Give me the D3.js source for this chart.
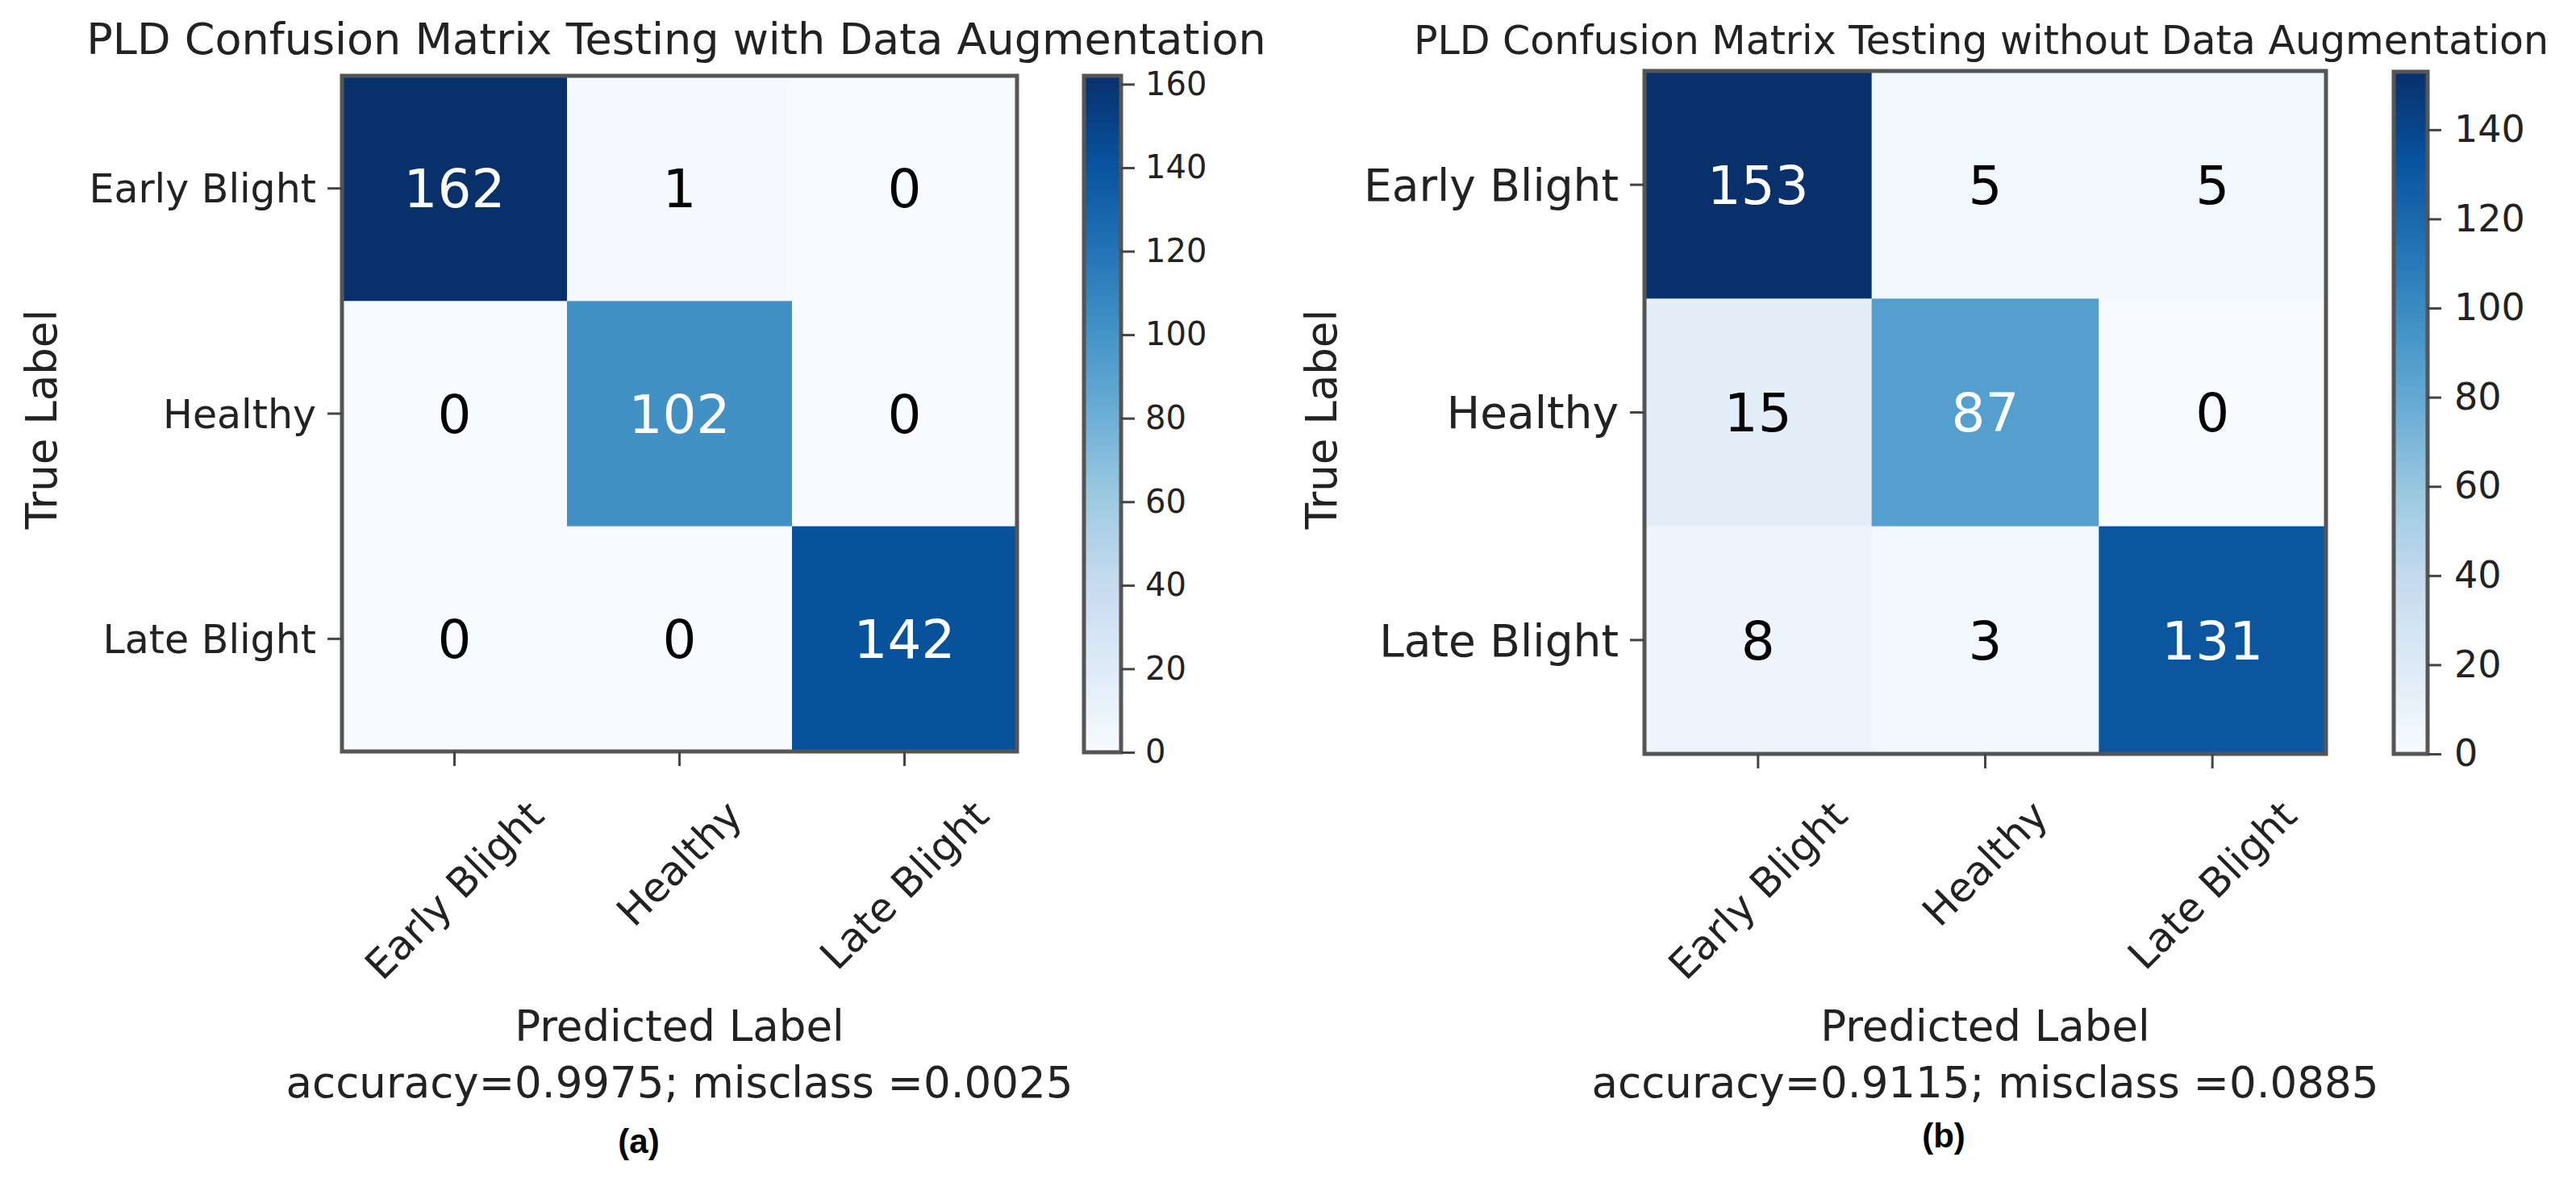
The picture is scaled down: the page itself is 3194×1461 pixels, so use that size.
<!DOCTYPE html>
<html>
<head>
<meta charset="utf-8">
<script src="https://cdn.jsdelivr.net/npm/d3@7"></script>
<style>
  body { margin: 0; background: #fff; }
  text { font-family: "DejaVu Sans", sans-serif; fill: #222; }
</style>
</head>
<body>
<div id="chart"></div>
<script>
// class names and confusion matrix counts (rows = true, cols = predicted)
var classes = ["Early Blight", "Healthy", "Late Blight"];
var matrixA = [[162, 1, 0], [0, 102, 0], [0, 0, 142]];
var matrixB = [[153, 5, 5], [15, 87, 0], [8, 3, 131]];
var cbTicksA = [0, 20, 40, 60, 80, 100, 120, 140, 160];
var cbTicksB = [0, 20, 40, 60, 80, 100, 120, 140];
var titleA = "PLD Confusion Matrix Testing with Data Augmentation";
var titleB = "PLD Confusion Matrix Testing without Data Augmentation";
var footA = "accuracy=0.9975; misclass =0.0025";
var footB = "accuracy=0.9115; misclass =0.0885";

var W = 3194, H = 1461;

var svg = d3.select("#chart")
  .append("svg")
    .attr("width", W)
    .attr("height", H);

svg.append("rect").attr("width", W).attr("height", H).attr("fill", "#fff");

// matplotlib "Blues" = linear ramp through the 9 colorbrewer stops
var blueStops = d3.schemeBlues[9];
var blues = d3.scaleLinear()
  .domain(d3.range(9).map(function(i) { return i / 8; }))
  .range(blueStops)
  .interpolate(d3.interpolateRgb);

function drawPanel(o) {
  var flat = d3.merge(o.matrix);
  var vmax = d3.max(flat), vmin = d3.min(flat);
  var g = svg.append("g");

  var x = d3.scaleBand().domain(d3.range(3)).range([o.x0, o.x1]);
  var y = d3.scaleBand().domain(d3.range(3)).range([o.y0, o.y1]);

  // title
  g.append("text")
    .attr("x", (o.x0 + o.x1) / 2 + o.titleDx)
    .attr("y", 67)
    .attr("text-anchor", "middle")
    .style("font-size", o.titleSize + "px")
    .text(o.title);

  // cells
  var cells = [];
  o.matrix.forEach(function(row, i) {
    row.forEach(function(v, j) { cells.push({i: i, j: j, v: v}); });
  });
  g.selectAll("rect.cell")
    .data(cells)
    .enter()
    .append("rect")
      .attr("class", "cell")
      .attr("x", function(d) { return x(d.j); })
      .attr("y", function(d) { return y(d.i); })
      .attr("width", x.bandwidth() + 0.5)
      .attr("height", y.bandwidth() + 0.5)
      .attr("fill", function(d) { return blues((d.v - vmin) / (vmax - vmin)); });

  g.selectAll("text.val")
    .data(cells)
    .enter()
    .append("text")
      .attr("class", "val")
      .attr("x", function(d) { return x(d.j) + x.bandwidth() / 2; })
      .attr("y", function(d) { return y(d.i) + y.bandwidth() / 2; })
      .attr("dy", "0.36em")
      .attr("text-anchor", "middle")
      .style("font-size", "66px")
      .style("fill", function(d) { return d.v > vmax / 2 ? "#fff" : "#000"; })
      .text(function(d) { return d.v; });

  // frame
  g.append("rect")
    .attr("x", o.x0).attr("y", o.y0)
    .attr("width", o.x1 - o.x0).attr("height", o.y1 - o.y0)
    .attr("fill", "none")
    .attr("stroke", "#555")
    .attr("stroke-width", 5);

  // x axis with 45 degree labels
  var xa = g.append("g")
    .attr("transform", "translate(0," + o.y1 + ")")
    .call(d3.axisBottom(x).tickSize(18).tickSizeOuter(0).tickFormat(function(d) { return classes[d]; }));
  xa.select(".domain").remove();
  xa.selectAll(".tick line").attr("stroke", "#444").attr("stroke-width", 3);
  xa.selectAll(".tick text")
    .style("font-size", "50px")
    .attr("fill", "#222")
    .attr("y", null)
    .attr("dy", null)
    .attr("text-anchor", "middle")
    .attr("dominant-baseline", "central")
    .attr("transform", function() {
      var w = this.getComputedTextLength();
      var bh = (w + 50 * 1.16) * Math.SQRT1_2;
      var cy = (982 - o.y1) + bh / 2;
      return "translate(0," + cy + ") rotate(-45)";
    });

  // y axis
  var ya = g.append("g")
    .attr("transform", "translate(" + o.x0 + ",0)")
    .call(d3.axisLeft(y).tickSize(18).tickSizeOuter(0).tickPadding(14).tickFormat(function(d) { return classes[d]; }));
  ya.select(".domain").remove();
  ya.selectAll(".tick line").attr("stroke", "#444").attr("stroke-width", 3);
  ya.selectAll(".tick text")
    .style("font-size", o.ytSize + "px")
    .attr("fill", "#222")
    .attr("dy", "0.36em");

  // axis labels
  g.append("text")
    .attr("transform", "translate(" + o.ylabX + "," + 520 + ") rotate(-90)")
    .attr("text-anchor", "middle")
    .style("font-size", "53px")
    .text("True Label");

  var cx = (o.x0 + o.x1) / 2;
  g.append("text")
    .attr("x", cx).attr("y", 1291)
    .attr("text-anchor", "middle")
    .style("font-size", "53px")
    .text("Predicted Label");
  g.append("text")
    .attr("x", cx).attr("y", 1361)
    .attr("text-anchor", "middle")
    .style("font-size", "53px")
    .text(o.foot);

  g.append("text")
    .attr("x", o.tagX).attr("y", o.tagY)
    .attr("text-anchor", "middle")
    .style("font-family", "'Liberation Sans', sans-serif")
    .style("font-weight", "bold")
    .style("font-size", "42px")
    .style("fill", "#000")
    .text(o.tag);

  // colorbar
  var gid = "grad" + o.tag.replace(/\W/g, "");
  var grad = svg.append("defs").append("linearGradient")
    .attr("id", gid)
    .attr("x1", 0).attr("y1", 1).attr("x2", 0).attr("y2", 0);
  grad.selectAll("stop")
    .data(blueStops)
    .enter()
    .append("stop")
      .attr("offset", function(d, i) { return i / 8; })
      .attr("stop-color", function(d) { return d; });

  var c = d3.scaleLinear().domain([vmin, vmax]).range([o.cb1, o.cb0]);
  g.append("rect")
    .attr("x", o.cbx0).attr("y", o.cb0)
    .attr("width", o.cbx1 - o.cbx0).attr("height", o.cb1 - o.cb0)
    .attr("fill", "url(#" + gid + ")")
    .attr("stroke", "#555")
    .attr("stroke-width", 5);

  var ca = g.append("g")
    .attr("transform", "translate(" + o.cbx1 + ",0)")
    .call(d3.axisRight(c).tickValues(o.cbTicks).tickSize(17).tickSizeOuter(0).tickPadding(o.cbPad));
  ca.select(".domain").remove();
  ca.selectAll(".tick line").attr("stroke", "#444").attr("stroke-width", 3);
  ca.selectAll(".tick text")
    .style("font-size", o.cbSize + "px")
    .attr("fill", "#222");
}

drawPanel({
  matrix: matrixA, cbTicks: cbTicksA, title: titleA, foot: footA, tag: "(a)",
  x0: 424, x1: 1261, y0: 94, y1: 932,
  titleSize: 54, titleDx: -4, ytSize: 49, ylabX: 70,
  tagX: 792, tagY: 1430,
  cbx0: 1344, cbx1: 1390, cb0: 94, cb1: 933, cbSize: 40, cbPad: 13
});

drawPanel({
  matrix: matrixB, cbTicks: cbTicksB, title: titleB, foot: footB, tag: "(b)",
  x0: 2039, x1: 2884, y0: 88, y1: 935,
  titleSize: 49, titleDx: -5, ytSize: 55, ylabX: 1657,
  tagX: 2410, tagY: 1423,
  cbx0: 2968, cbx1: 3010, cb0: 89, cb1: 935, cbSize: 46, cbPad: 16
});
</script>
</body>
</html>
